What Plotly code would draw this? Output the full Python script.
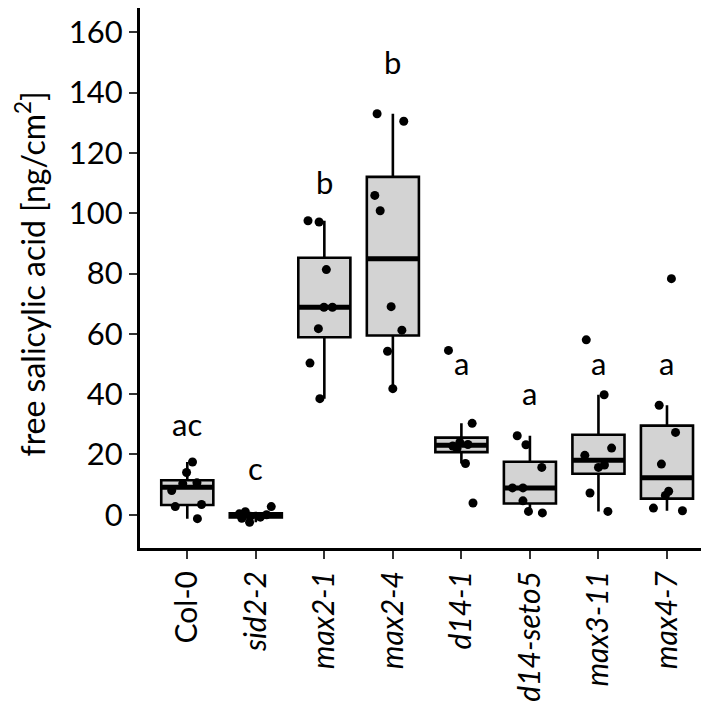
import numpy as np
import plotly.graph_objects as go

genotypes = ["Col-0", "sid2-2", "max2-1", "max2-4", "d14-1", "d14-seto5", "max3-11", "max4-7"]
genotype_labels = ["Col-0", "<i>sid2-2</i>", "<i>max2-1</i>", "<i>max2-4</i>", "<i>d14-1</i>",
                   "<i>d14-seto5</i>", "<i>max3-11</i>", "<i>max4-7</i>"]

col0 = [-1.3, 2.7, 3.4, 8.0, 10.3, 10.6, 14.0, 17.5]
sid2_2 = [-2.5, -1.2, -0.8, -0.5, 0.0, 0.3, 1.0, 2.7]
max2_1 = [38.5, 50.3, 61.7, 68.8, 68.8, 81.3, 97.1, 97.5]
max2_4 = [41.8, 54.2, 61.2, 69.0, 100.8, 105.9, 130.5, 133.0]
d14_1 = [3.9, 17.0, 22.0, 22.8, 23.3, 24.0, 30.3, 54.5]
d14_seto5 = [0.6, 1.1, 4.6, 8.9, 8.9, 15.7, 23.2, 26.2]
max3_11 = [1.1, 7.2, 15.7, 16.5, 19.7, 22.1, 39.8, 58.0]
max4_7 = [1.3, 2.2, 6.4, 7.8, 16.8, 27.3, 36.3, 78.3]

letters = ["ac", "c", "b", "b", "a", "a", "a", "a"]
letter_y = [25.8, 11.1, 106.1, 145.9, 45.9, 36.0, 45.9, 45.9]

y_ticks = [0, 20, 40, 60, 80, 100, 120, 140, 160]

groups = [col0, sid2_2, max2_1, max2_4, d14_1, d14_seto5, max3_11, max4_7]

q1, med, q3, lo, hi = [], [], [], [], []
for g in groups:
    v = np.array(g)
    a, m, b = np.percentile(v, [25, 50, 75])
    iqr = b - a
    q1.append(a); med.append(m); q3.append(b)
    lo.append(v[v >= a - 1.5 * iqr].min())
    hi.append(v[v <= b + 1.5 * iqr].max())

FONT = "Lato"
fig = go.Figure()

fig.add_trace(go.Box(
    x=genotypes, q1=q1, median=med, q3=q3, lowerfence=lo, upperfence=hi,
    width=0.76, whiskerwidth=0, fillcolor="#d3d3d3",
    line=dict(color="black", width=2.6), boxpoints=False, hoverinfo="skip",
))
fig.add_trace(go.Box(
    x=genotypes, q1=med, median=med, q3=med, lowerfence=med, upperfence=med,
    width=0.76, whiskerwidth=0, fillcolor="rgba(0,0,0,0)",
    line=dict(color="black", width=5), boxpoints=False, hoverinfo="skip",
))

px, py = [], []
for gname, g in zip(genotypes, groups):
    px += [gname] * len(g)
    py += list(g)
fig.add_trace(go.Box(
    x=px, y=py, width=0.76, boxpoints="all", jitter=0.75, pointpos=0,
    fillcolor="rgba(0,0,0,0)", line=dict(color="rgba(0,0,0,0)", width=0),
    whiskerwidth=0, marker=dict(color="black", size=9), hoverinfo="skip",
))

for gname, t, ly in zip(genotypes, letters, letter_y):
    fig.add_annotation(x=gname, y=ly, text=t, showarrow=False, xref="x", yref="y",
                       yanchor="bottom", yshift=-8,
                       font=dict(family=FONT, size=31, color="black"))

fig.add_annotation(xref="paper", yref="paper", x=-0.19, y=0.507,
                   text="free salicylic acid [ng/cm<sup>2</sup>]", textangle=-90,
                   showarrow=False, xanchor="center", yanchor="middle",
                   font=dict(family=FONT, size=32, color="black"))

fig.update_layout(
    width=709, height=702,
    margin=dict(l=132, r=0, t=0, b=162),
    paper_bgcolor="white", plot_bgcolor="white",
    showlegend=False, boxmode="overlay",
    font=dict(family=FONT, color="black"),
)
fig.update_xaxes(
    type="category", categoryorder="array", categoryarray=genotypes,
    tickvals=genotypes, ticktext=genotype_labels, tickangle=-90, automargin=False,
    range=[-0.69, 7.73], showline=True, linecolor="black", linewidth=3,
    ticks="outside", ticklen=8, tickwidth=2, tickcolor="#333333",
    tickfont=dict(family=FONT, size=30, color="black"), showgrid=False, zeroline=False,
)
fig.update_yaxes(
    range=[-11.04, 168.06], tickvals=y_ticks, showline=True, linecolor="black", linewidth=3,
    automargin=False,
    ticks="outside", ticklen=8, tickwidth=2, tickcolor="#333333",
    tickfont=dict(family=FONT, size=31, color="black"), showgrid=False, zeroline=False,
)

fig.write_html("out.html")
